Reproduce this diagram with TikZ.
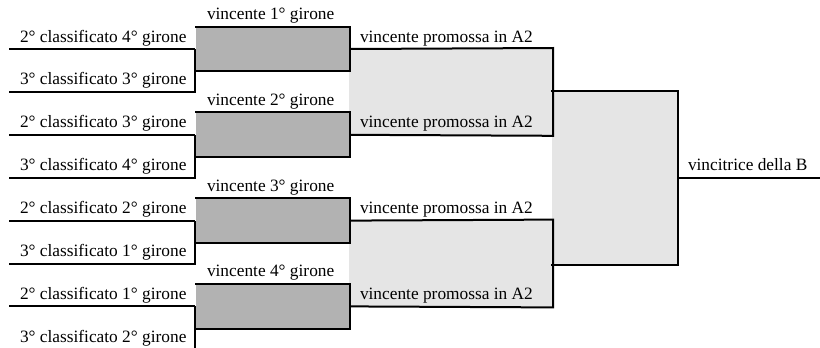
\documentclass[tikz,border=0pt]{standalone}
\usepackage{fontspec}
\setmainfont{Liberation Serif}
\usetikzlibrary{positioning}

\definecolor{darkcell}{RGB}{178,178,178}
\definecolor{lightcell}{RGB}{229,229,229}

\begin{document}
\begin{tikzpicture}[x=0.75pt,y=-0.75pt,line width=1.5pt,
    lbl/.style={inner sep=0pt,anchor=south west,text depth=3pt,font=\fontsize{13}{15}\selectfont},
    match/.style={fill=darkcell,inner sep=0pt,minimum width=114.75pt,minimum height=32.18pt},
    semi/.style={fill=lightcell,inner sep=0pt,minimum width=152.25pt,minimum height=64.35pt},
    final/.style={fill=lightcell,inner sep=0pt,minimum width=93.75pt,minimum height=128.7pt}]
      \useasboundingbox (0,0) rectangle (820,347);

      \node[semi]  (q1) at (450.5,91.9)  {};
      \node[semi]  (q2) at (450.5,263.5) {};
      \node[final] (f)  at (614.5,177.7) {};
      \node[match] (m1) at (272.5,49)    {};
      \node[match] (m2) at (272.5,134.8) {};
      \node[match] (m3) at (272.5,220.6) {};
      \node[match] (m4) at (272.5,306.4) {};

      \coordinate (s1) at (9,49);
      \coordinate (s2) at (9,91.9);
      \coordinate (s3) at (9,134.8);
      \coordinate (s4) at (9,177.7);
      \coordinate (s5) at (9,220.6);
      \coordinate (s6) at (9,263.5);
      \coordinate (s7) at (9,306.4);
      \coordinate (s8) at (9,349.3);
      \coordinate (win) at (820,177.7);

      % first round
      \draw (s1) -- (m1.west);  \draw (s2) -| (m1.west);
      \draw (s3) -- (m2.west);  \draw (s4) -| (m2.west);
      \draw (s5) -- (m3.west);  \draw (s6) -| (m3.west);
      \draw (s7) -- (m4.west);  \draw (s8) -| (m4.west);
      \draw (m1.north west) -- (m1.north east) -- (m1.south east) -- (m1.south west);
      \draw (m2.north west) -- (m2.north east) -- (m2.south east) -- (m2.south west);
      \draw (m3.north west) -- (m3.north east) -- (m3.south east) -- (m3.south west);
      \draw (m4.north west) -- (m4.north east) -- (m4.south east) -- (m4.south west);

      % promozione e finale
      \draw (m1.east) -- (q1.north east) -- (q1.south east) -- (m2.east);
      \draw (m3.east) -- (q2.north east) -- (q2.south east) -- (m4.east);
      \draw (f.north west) -- (f.north east) -- (f.south east) -- (f.south west);
      \draw (f.east) -- (win);

      \node[lbl] (l1) [above right=1.5pt and 7.5pt of s1] {2° classificato 4° girone};
      \node[lbl] (l2) [above right=1.5pt and 7.5pt of s2] {3° classificato 3° girone};
      \node[lbl] (l3) [above right=1.5pt and 7.5pt of s3] {2° classificato 3° girone};
      \node[lbl] (l4) [above right=1.5pt and 7.5pt of s4] {3° classificato 4° girone};
      \node[lbl] (l5) [above right=1.5pt and 7.5pt of s5] {2° classificato 2° girone};
      \node[lbl] (l6) [above right=1.5pt and 7.5pt of s6] {3° classificato 1° girone};
      \node[lbl] (l7) [above right=1.5pt and 7.5pt of s7] {2° classificato 1° girone};
      \node[lbl] (l8) [above right=1.5pt and 7.5pt of s8] {3° classificato 2° girone};

      \node[lbl] (v1) [above right=1.5pt and 8.25pt of m1.north west] {vincente 1° girone};
      \node[lbl] (v2) [above right=1.5pt and 8.25pt of m2.north west] {vincente 2° girone};
      \node[lbl] (v3) [above right=1.5pt and 8.25pt of m3.north west] {vincente 3° girone};
      \node[lbl] (v4) [above right=1.5pt and 8.25pt of m4.north west] {vincente 4° girone};

      \node[lbl] (p1) [above right=1.5pt and 6.75pt of m1.east] {vincente promossa in A2};
      \node[lbl] (p2) [above right=1.5pt and 6.75pt of m2.east] {vincente promossa in A2};
      \node[lbl] (p3) [above right=1.5pt and 6.75pt of m3.east] {vincente promossa in A2};
      \node[lbl] (p4) [above right=1.5pt and 6.75pt of m4.east] {vincente promossa in A2};

      \node[lbl] (w) [above right=1.5pt and 6.75pt of f.east] {vincitrice della B};
\end{tikzpicture}
\end{document}
